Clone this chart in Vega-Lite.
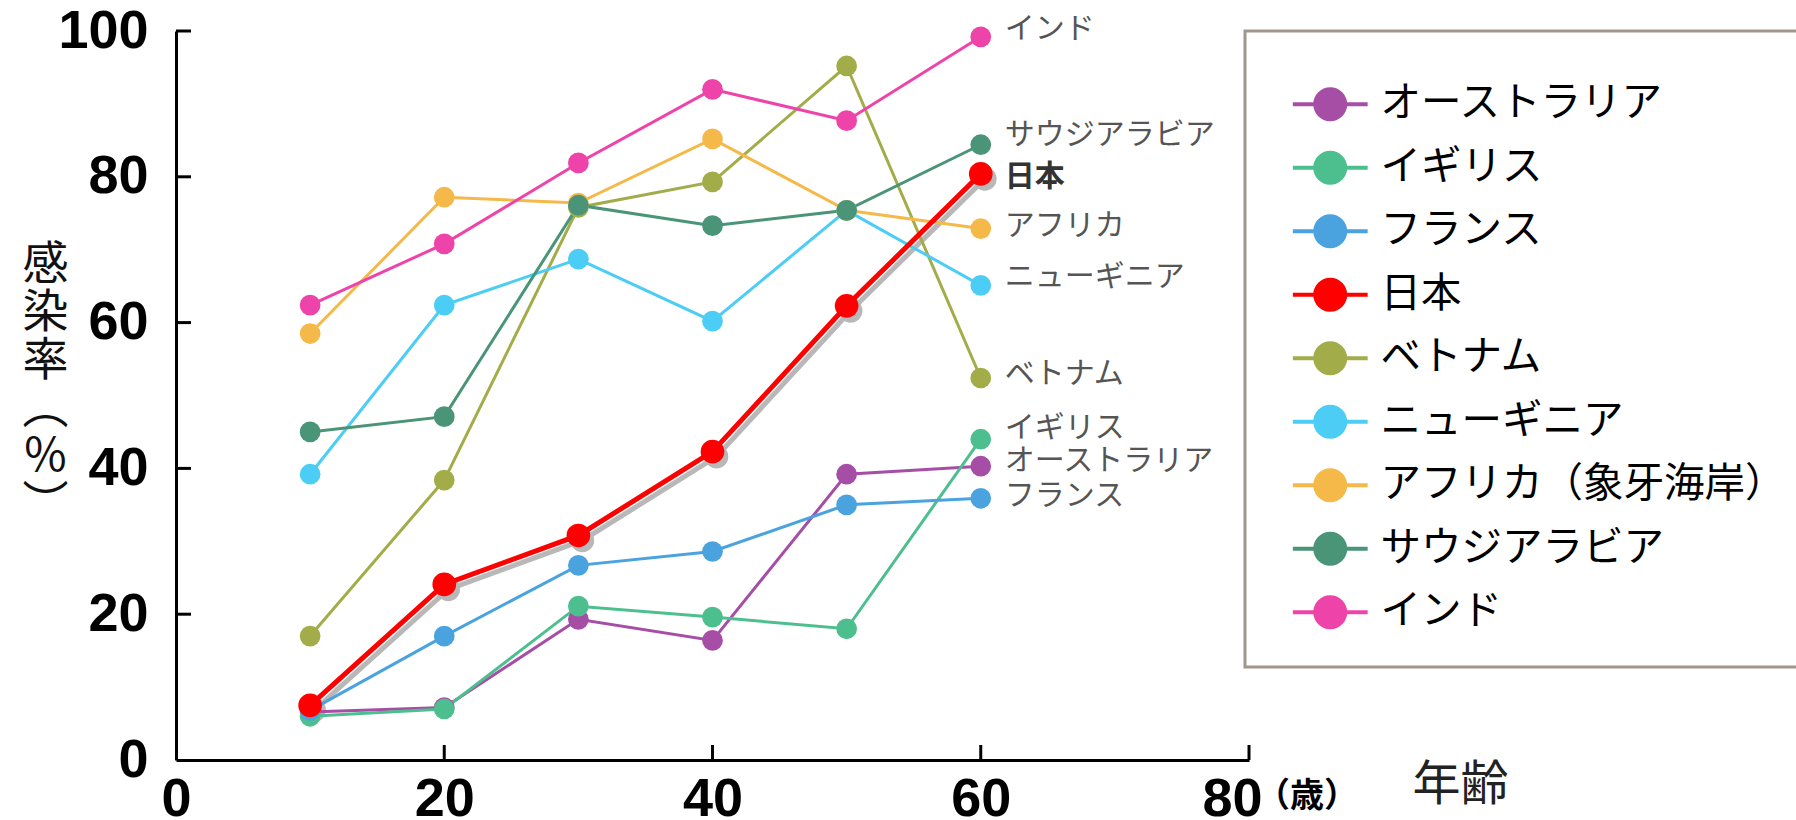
{
  "$schema": "https://vega.github.io/schema/vega-lite/v6.json",
  "width": 1073,
  "height": 729,
  "autosize": {"type": "none"},
  "padding": {"left": 176, "top": 31, "right": 547, "bottom": 60},
  "background": "white",
  "config": {
    "view": {"stroke": null},
    "font": "Noto Sans CJK JP",
    "legend": {"strokeWidth": 3},
    "style": {"guide-label": {"lineHeight": 22}},
    "axis": {
      "grid": false,
      "domainColor": "black",
      "domainWidth": 3,
      "labelFont": "Liberation Sans",
      "labelFontWeight": "bold",
      "labelFontSize": 54,
      "labelColor": "black",
      "labelFlush": false,
      "labelOverlap": false
    }
  },
  "datasets": {
    "series": [
      {"country": "オーストラリア", "age": 10, "rate": 6.6},
      {"country": "オーストラリア", "age": 20, "rate": 7.2},
      {"country": "オーストラリア", "age": 30, "rate": 19.3},
      {"country": "オーストラリア", "age": 40, "rate": 16.4},
      {"country": "オーストラリア", "age": 50, "rate": 39.2},
      {"country": "オーストラリア", "age": 60, "rate": 40.3},
      {"country": "イギリス", "age": 10, "rate": 6.0},
      {"country": "イギリス", "age": 20, "rate": 7.0},
      {"country": "イギリス", "age": 30, "rate": 21.1},
      {"country": "イギリス", "age": 40, "rate": 19.6},
      {"country": "イギリス", "age": 50, "rate": 18.0},
      {"country": "イギリス", "age": 60, "rate": 44.0},
      {"country": "フランス", "age": 10, "rate": 6.8},
      {"country": "フランス", "age": 20, "rate": 17.0},
      {"country": "フランス", "age": 30, "rate": 26.7},
      {"country": "フランス", "age": 40, "rate": 28.6},
      {"country": "フランス", "age": 50, "rate": 35.0},
      {"country": "フランス", "age": 60, "rate": 35.9},
      {"country": "日本", "age": 10, "rate": 7.5},
      {"country": "日本", "age": 20, "rate": 24.1},
      {"country": "日本", "age": 30, "rate": 30.8},
      {"country": "日本", "age": 40, "rate": 42.3},
      {"country": "日本", "age": 50, "rate": 62.3},
      {"country": "日本", "age": 60, "rate": 80.4},
      {"country": "ベトナム", "age": 10, "rate": 17.0},
      {"country": "ベトナム", "age": 20, "rate": 38.4},
      {"country": "ベトナム", "age": 30, "rate": 75.8},
      {"country": "ベトナム", "age": 40, "rate": 79.3},
      {"country": "ベトナム", "age": 50, "rate": 95.2},
      {"country": "ベトナム", "age": 60, "rate": 52.4},
      {"country": "ニューギニア", "age": 10, "rate": 39.2},
      {"country": "ニューギニア", "age": 20, "rate": 62.4},
      {"country": "ニューギニア", "age": 30, "rate": 68.7},
      {"country": "ニューギニア", "age": 40, "rate": 60.2},
      {"country": "ニューギニア", "age": 50, "rate": 75.4},
      {"country": "ニューギニア", "age": 60, "rate": 65.1},
      {"country": "アフリカ（象牙海岸）", "age": 10, "rate": 58.5},
      {"country": "アフリカ（象牙海岸）", "age": 20, "rate": 77.2},
      {"country": "アフリカ（象牙海岸）", "age": 30, "rate": 76.4},
      {"country": "アフリカ（象牙海岸）", "age": 40, "rate": 85.2},
      {"country": "アフリカ（象牙海岸）", "age": 50, "rate": 75.4},
      {"country": "アフリカ（象牙海岸）", "age": 60, "rate": 72.9},
      {"country": "サウジアラビア", "age": 10, "rate": 45.0},
      {"country": "サウジアラビア", "age": 20, "rate": 47.1},
      {"country": "サウジアラビア", "age": 30, "rate": 76.1},
      {"country": "サウジアラビア", "age": 40, "rate": 73.3},
      {"country": "サウジアラビア", "age": 50, "rate": 75.4},
      {"country": "サウジアラビア", "age": 60, "rate": 84.4},
      {"country": "インド", "age": 10, "rate": 62.4},
      {"country": "インド", "age": 20, "rate": 70.8},
      {"country": "インド", "age": 30, "rate": 81.9},
      {"country": "インド", "age": 40, "rate": 92.0},
      {"country": "インド", "age": 50, "rate": 87.7},
      {"country": "インド", "age": 60, "rate": 99.2}
    ],
    "labels": [
      {"name": "インド", "age": 60, "rate": 100.3, "bold": false},
      {"name": "サウジアラビア", "age": 60, "rate": 85.8, "bold": false},
      {"name": "日本", "age": 60, "rate": 80.0, "bold": true},
      {"name": "アフリカ", "age": 60, "rate": 73.3, "bold": false},
      {"name": "ニューギニア", "age": 60, "rate": 66.3, "bold": false},
      {"name": "ベトナム", "age": 60, "rate": 53.0, "bold": false},
      {"name": "イギリス", "age": 60, "rate": 45.5, "bold": false},
      {"name": "オーストラリア", "age": 60, "rate": 41.0, "bold": false},
      {"name": "フランス", "age": 60, "rate": 36.2, "bold": false}
    ],
    "ticks": [
      {"axis": "x", "age": 20, "rate": 0},
      {"axis": "x", "age": 40, "rate": 0},
      {"axis": "x", "age": 60, "rate": 0},
      {"axis": "x", "age": 80, "rate": 0},
      {"axis": "y", "age": 0, "rate": 20},
      {"axis": "y", "age": 0, "rate": 40},
      {"axis": "y", "age": 0, "rate": 60},
      {"axis": "y", "age": 0, "rate": 80},
      {"axis": "y", "age": 0, "rate": 100}
    ],
    "unit": [
      {"age": 80, "rate": 0, "t": "（歳）"}
    ]
  },
  "layer": [
    {
      "data": {"name": "series"},
      "transform": [{"filter": "datum.country === '日本'"}],
      "mark": {
        "type": "line",
        "color": "#b8b8b8",
        "strokeWidth": 5,
        "xOffset": 4,
        "yOffset": 5,
        "point": {"filled": true, "size": 560, "color": "#b8b8b8", "xOffset": 4, "yOffset": 5}
      },
      "encoding": {
        "x": {
          "field": "age", "type": "quantitative",
          "scale": {"domain": [0, 80], "nice": false},
          "axis": {
            "values": [0, 20, 40, 60, 80],
            "ticks": false,
            "labelPadding": 12,
            "labelOffset": {"condition": {"test": "datum.value === 80", "value": -17}, "value": 0},
            "title": "年齢",
            "titleFont": "Noto Sans CJK JP",
            "titleFontSize": 48,
            "titleFontWeight": "normal",
            "titleColor": "#222222",
            "titleX": 1284,
            "titleY": 25,
            "titleAlign": "center",
            "titleBaseline": "middle"
          }
        },
        "y": {
          "field": "rate", "type": "quantitative",
          "scale": {"domain": [0, 100], "nice": false},
          "axis": {
            "values": [0, 20, 40, 60, 80, 100],
            "ticks": false,
            "labelPadding": 28,
            "title": ["感", "染", "率", "︵", "%", "︶"],
            "titleFont": "Noto Sans CJK JP",
            "titleFontSize": 46,
            "titleFontWeight": "normal",
            "titleColor": "#111111",
            "titleAngle": 0,
            "titleAlign": "center",
            "titleBaseline": "top",
            "titleLineHeight": 48,
            "titleX": -131,
            "titleY": 211
          }
        },
        "detail": {"field": "country"}
      }
    },
    {
      "data": {"name": "ticks"},
      "transform": [{"filter": "datum.axis === 'x'"}],
      "mark": {"type": "tick", "orient": "vertical", "size": 15, "thickness": 3, "color": "black", "opacity": 1, "yOffset": -7.5},
      "encoding": {
        "x": {"field": "age", "type": "quantitative"},
        "y": {"field": "rate", "type": "quantitative"}
      }
    },
    {
      "data": {"name": "ticks"},
      "transform": [{"filter": "datum.axis === 'y'"}],
      "mark": {"type": "tick", "orient": "horizontal", "size": 15, "thickness": 3, "color": "black", "opacity": 1, "xOffset": 7.5},
      "encoding": {
        "x": {"field": "age", "type": "quantitative"},
        "y": {"field": "rate", "type": "quantitative"}
      }
    },
    {
      "data": {"name": "series"},
      "transform": [{"filter": "datum.country !== '日本'"}],
      "mark": {"type": "line", "strokeWidth": 3, "point": {"filled": true, "size": 430}},
      "encoding": {
        "x": {"field": "age", "type": "quantitative"},
        "y": {"field": "rate", "type": "quantitative"},
        "color": {
          "field": "country", "type": "nominal",
          "scale": {
            "domain": ["オーストラリア", "イギリス", "フランス", "日本", "ベトナム", "ニューギニア", "アフリカ（象牙海岸）", "サウジアラビア", "インド"],
            "range": ["#a64ea6", "#4dbf8f", "#4aa3df", "#ff0000", "#a2ad4a", "#4ccdf5", "#f5b94a", "#4a9478", "#ee44aa"]
          },
          "legend": {
            "orient": "none",
            "legendX": 1069,
            "legendY": 0,
            "title": "　",
            "titleFontSize": 13,
            "titlePadding": 28,
            "padding": 12,
            "strokeColor": "#a0968e",
            "fillColor": "white",
            "symbolType": "M -2.2 -0.12 L 2.2 -0.12 L 2.2 0.12 L -2.2 0.12 Z M -1 0 A 1 1 0 1 1 1 0 A 1 1 0 1 1 -1 0 Z",
            "symbolSize": 1156,
            "symbolOffset": 53,
            "symbolStrokeWidth": 0,
            "labelOffset": 30,
            "labelFontSize": 40.5,
            "labelFont": "Noto Sans CJK JP",
            "labelColor": "black",
            "labelLimit": 600,
            "labelExpr": "datum.label === 'インド' ? ['インド', ''] : datum.label",
            "rowPadding": 22.5
          }
        }
      }
    },
    {
      "data": {"name": "series"},
      "transform": [{"filter": "datum.country === '日本'"}],
      "mark": {"type": "line", "strokeWidth": 5, "point": {"filled": true, "size": 560}},
      "encoding": {
        "x": {"field": "age", "type": "quantitative"},
        "y": {"field": "rate", "type": "quantitative"},
        "color": {"field": "country", "type": "nominal"}
      }
    },
    {
      "data": {"name": "labels"},
      "transform": [{"filter": "!datum.bold"}],
      "mark": {"type": "text", "align": "left", "baseline": "middle", "dx": 24, "fontSize": 30, "color": "#555555", "font": "Noto Sans CJK JP"},
      "encoding": {
        "x": {"field": "age", "type": "quantitative"},
        "y": {"field": "rate", "type": "quantitative"},
        "text": {"field": "name"}
      }
    },
    {
      "data": {"name": "labels"},
      "transform": [{"filter": "datum.bold"}],
      "mark": {"type": "text", "align": "left", "baseline": "middle", "dx": 24, "fontSize": 30, "fontWeight": "bold", "color": "#333333", "font": "Noto Sans CJK JP"},
      "encoding": {
        "x": {"field": "age", "type": "quantitative"},
        "y": {"field": "rate", "type": "quantitative"},
        "text": {"field": "name"}
      }
    },
    {
      "data": {"name": "unit"},
      "mark": {"type": "text", "align": "left", "baseline": "middle", "dx": 7, "dy": 37, "fontSize": 34, "fontWeight": "bold", "color": "black", "font": "Noto Sans CJK JP"},
      "encoding": {
        "x": {"field": "age", "type": "quantitative"},
        "y": {"field": "rate", "type": "quantitative"},
        "text": {"field": "t"}
      }
    }
  ]
}
